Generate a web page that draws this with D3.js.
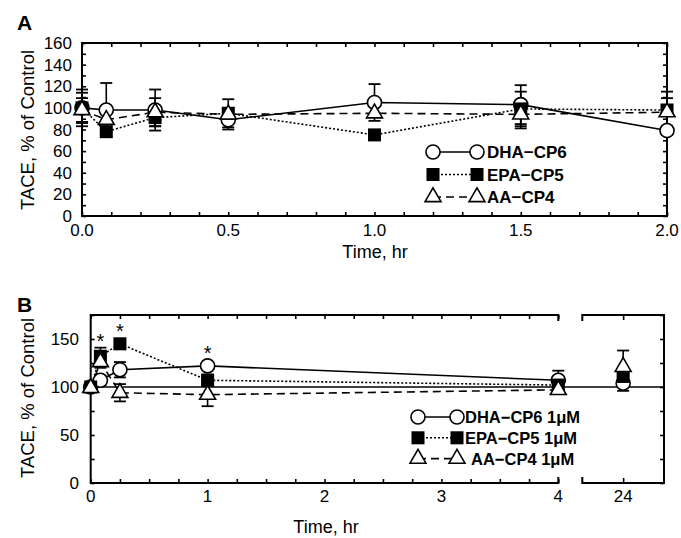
<!DOCTYPE html>
<html>
<head>
<meta charset="utf-8">
<script src="https://cdn.jsdelivr.net/npm/d3@7"></script>
<style>
  body { margin: 0; background: #fff; }
  text { font-family: "Liberation Sans", Arial, sans-serif; }
</style>
</head>
<body>
<svg id="svg1" width="681" height="538"></svg>
<script>
// ---- panel A data ----
var timesA = [0, 0.083, 0.25, 0.5, 1.0, 1.5, 2.0];
var dhaA = [100, 98, 98, 89, 105, 103, 79];
var dhaAErr = [17, 25, 19, 9, 17, 18, 4];
var epaA = [100, 78, 91, 95, 75, 99, 98];
var epaAErr = [14, 0, 8, 13, 0, 16, 17];
var aaA = [98, 89, 96, 94, 95, 94, 96];
var aaAErr = [11, 0, 13, 6, 0, 13, 13];
var xTicksA = [0, 0.5, 1.0, 1.5, 2.0];
var yTicksA = [0, 20, 40, 60, 80, 100, 120, 140, 160];

// ---- panel B data ----
var timesB = [0, 0.083, 0.25, 1, 4];
var dhaB = [100, 107, 118, 122, 107];
var dhaBErr = [0, 5, 8, 0, 10];
var epaB = [100, 132, 145, 107, 102];
var epaBErr = [0, 9, 4, 6, 3];
var aaB = [99, 126, 94, 92, 97];
var aaBErr = [0, 6, 9, 12, 0];
var time24 = 24;
var dha24 = 104, dha24Err = 8;
var epa24 = 111, epa24Err = 5;
var aa24 = 121, aa24Err = 17;
var starTimes = [0.083, 0.25, 1];
var starValues = [150, 160, 138];
var xTicksB = [0, 1, 2, 3, 4];
var yTicksB = [0, 50, 100, 150];

var svg = d3.select("#svg1");

var symCircle = d3.symbol().type(d3.symbolCircle).size(155);
var symSquare = d3.symbol().type(d3.symbolSquare).size(170);
var symTri = d3.symbol().type(d3.symbolTriangle).size(110);

function drawMarker(g, kind, x, y) {
  var p = g.append("path").attr("transform", "translate(" + x + "," + y + ")")
  if (kind == "dha") p.attr("d", symCircle()).attr("fill", "#fff").attr("stroke", "#000").attr("stroke-width", 1.6)
  else if (kind == "epa") p.attr("d", symSquare()).attr("fill", "#000")
  else p.attr("d", symTri()).attr("fill", "#fff").attr("stroke", "#000").attr("stroke-width", 1.6)
}
function dashFor(kind) {
  if (kind == "epa") return "2,2";
  if (kind == "aa") return "8,5";
  return null;
}
function errBar(g, x, y, v, e) {
  if (!e) return;
  [y(v + e), y(v - e)].forEach(function (yy) {
    g.append("line").attr("x1", x - 6).attr("x2", x + 6).attr("y1", yy).attr("y2", yy)
      .attr("stroke", "#000").attr("stroke-width", 1.8);
  });
  g.append("line").attr("x1", x).attr("x2", x).attr("y1", y(v + e)).attr("y2", y(v - e))
    .attr("stroke", "#000").attr("stroke-width", 1.6);
}
function noDomain(a) { a.select(".domain").remove(); }

// ================= Panel A =================
var xA = d3.scaleLinear().domain([0, 2]).range([82, 667]);
var yA = d3.scaleLinear().domain([0, 160]).range([216, 43]);

var gA = svg.append("g");
// frame
gA.append("rect").attr("x", 82).attr("y", 43).attr("width", 585).attr("height", 173)
  .attr("fill", "none").attr("stroke", "#000").attr("stroke-width", 2);

// inward ticks
gA.append("g").attr("transform", "translate(0,216)")
  .call(d3.axisBottom(xA).ticks(20).tickSizeInner(-4).tickSizeOuter(0).tickFormat("")).call(noDomain);
gA.append("g").attr("transform", "translate(0,43)")
  .call(d3.axisTop(xA).ticks(20).tickSizeInner(-4).tickSizeOuter(0).tickFormat("")).call(noDomain);
gA.append("g").attr("transform", "translate(82,0)")
  .call(d3.axisLeft(yA).tickValues(d3.range(0, 161, 10)).tickSizeInner(-4).tickSizeOuter(0).tickFormat("")).call(noDomain);
gA.append("g").attr("transform", "translate(667,0)")
  .call(d3.axisRight(yA).tickValues(d3.range(0, 161, 10)).tickSizeInner(-4).tickSizeOuter(0).tickFormat("")).call(noDomain);
gA.selectAll(".tick line").attr("stroke-width", 1.6);

// tick labels
gA.selectAll(".xl").data(xTicksA).enter().append("text")
  .attr("x", function (d) { return xA(d); }).attr("y", 236)
  .attr("text-anchor", "middle").attr("font-size", 17).text(function (d) { return d.toFixed(1); });
gA.selectAll(".yl").data(yTicksA).enter().append("text")
  .attr("x", 72).attr("y", function (d) { return yA(d) + 6; })
  .attr("text-anchor", "end").attr("font-size", 17).text(function (d) { return d; });

gA.append("text").attr("x", 375).attr("y", 258).attr("text-anchor", "middle")
  .attr("font-size", 18).text("Time, hr");
gA.append("text").attr("transform", "translate(34,130) rotate(-90)").attr("text-anchor", "middle")
  .attr("font-size", 18.5).text("TACE, % of Control");
gA.append("text").attr("x", 17).attr("y", 30).attr("font-size", 21).attr("font-weight", "bold").text("A");

var seriesA = [
  { kind: "dha", v: dhaA, e: dhaAErr },
  { kind: "epa", v: epaA, e: epaAErr },
  { kind: "aa", v: aaA, e: aaAErr }
];
seriesA.forEach(function (s) {
  var line = d3.line().x(function (d, i) { return xA(timesA[i]); }).y(function (d) { return yA(d); });
  gA.append("path").datum(s.v).attr("d", line).attr("fill", "none").attr("stroke", "#000")
    .attr("stroke-width", 1.6).attr("stroke-dasharray", dashFor(s.kind));
});
seriesA.forEach(function (s) {
  s.v.forEach(function (v, i) { errBar(gA, xA(timesA[i]), yA, v, s.e[i]); });
});
seriesA.forEach(function (s) {
  s.v.forEach(function (v, i) { drawMarker(gA, s.kind, xA(timesA[i]), yA(v)); });
});

// legend A
var legA = [["dha", "DHA\u2212CP6"], ["epa", "EPA\u2212CP5"], ["aa", "AA\u2212CP4"]];
legA.forEach(function (l, i) {
  var ly = 152 + i * 22.5;
  gA.append("line").attr("x1", 433).attr("x2", 477).attr("y1", ly).attr("y2", ly)
    .attr("stroke", "#000").attr("stroke-width", 1.6).attr("stroke-dasharray", dashFor(l[0]));
  drawMarker(gA, l[0], 433, ly);
  drawMarker(gA, l[0], 477, ly);
  gA.append("text").attr("x", 487).attr("y", ly + 6).attr("font-size", 17)
    .attr("font-weight", "bold").text(l[1]);
});

// ================= Panel B =================
var xB = d3.scaleLinear().domain([0, 4]).range([90.7, 558.3]);
var xB2 = d3.scaleLinear().domain([23.5, 24.5]).range([582.3, 664]);
var yB = d3.scaleLinear().domain([0, 175]).range([483, 315]);

var gB = svg.append("g");
// frame with axis break
gB.append("path").attr("d",
  "M558.3,477V483H90.7V315H558.3V321" +
  "M582.3,477V483H664V315H582.3V321")
  .attr("fill", "none").attr("stroke", "#000").attr("stroke-width", 2);

gB.append("g").attr("transform", "translate(0,483)")
  .call(d3.axisBottom(xB).tickValues(d3.range(0, 4.01, 0.25)).tickSizeInner(-4).tickSizeOuter(0).tickFormat("")).call(noDomain);
gB.append("g").attr("transform", "translate(0,315)")
  .call(d3.axisTop(xB).tickValues(d3.range(0, 4.01, 0.25)).tickSizeInner(-4).tickSizeOuter(0).tickFormat("")).call(noDomain);
gB.append("g").attr("transform", "translate(0,483)")
  .call(d3.axisBottom(xB2).tickValues([24]).tickSizeInner(-5).tickSizeOuter(0).tickFormat("")).call(noDomain);
gB.append("g").attr("transform", "translate(0,315)")
  .call(d3.axisTop(xB2).tickValues([24]).tickSizeInner(-5).tickSizeOuter(0).tickFormat("")).call(noDomain);
gB.append("g").attr("transform", "translate(90.7,0)")
  .call(d3.axisLeft(yB).tickValues(d3.range(0, 176, 25)).tickSizeInner(-4).tickSizeOuter(0).tickFormat("")).call(noDomain);
gB.append("g").attr("transform", "translate(664,0)")
  .call(d3.axisRight(yB).tickValues(d3.range(0, 176, 25)).tickSizeInner(-4).tickSizeOuter(0).tickFormat("")).call(noDomain);
gB.selectAll(".tick line").attr("stroke-width", 1.6);

gB.selectAll(".xl").data(xTicksB).enter().append("text")
  .attr("x", function (d) { return xB(d); }).attr("y", 502)
  .attr("text-anchor", "middle").attr("font-size", 17).text(function (d) { return d; });
gB.append("text").attr("x", xB2(time24)).attr("y", 502)
  .attr("text-anchor", "middle").attr("font-size", 17).text(time24);
gB.selectAll(".yl").data(yTicksB).enter().append("text")
  .attr("x", 79).attr("y", function (d) { return yB(d) + 6; })
  .attr("text-anchor", "end").attr("font-size", 17).text(function (d) { return d; });

gB.append("text").attr("x", 326).attr("y", 533).attr("text-anchor", "middle")
  .attr("font-size", 18).text("Time, hr");
gB.append("text").attr("transform", "translate(34,398) rotate(-90)").attr("text-anchor", "middle")
  .attr("font-size", 18.5).text("TACE, % of Control");
gB.append("text").attr("x", 17).attr("y", 312).attr("font-size", 21).attr("font-weight", "bold").text("B");

// 100% reference line
gB.append("line").attr("x1", xB(0)).attr("x2", 664).attr("y1", yB(100)).attr("y2", yB(100))
  .attr("stroke", "#000").attr("stroke-width", 1.6);

var seriesB = [
  { kind: "dha", v: dhaB, e: dhaBErr, v24: dha24, e24: dha24Err },
  { kind: "epa", v: epaB, e: epaBErr, v24: epa24, e24: epa24Err },
  { kind: "aa", v: aaB, e: aaBErr, v24: aa24, e24: aa24Err }
];
seriesB.forEach(function (s) {
  var line = d3.line().x(function (d, i) { return xB(timesB[i]); }).y(function (d) { return yB(d); });
  gB.append("path").datum(s.v).attr("d", line).attr("fill", "none").attr("stroke", "#000")
    .attr("stroke-width", 1.6).attr("stroke-dasharray", dashFor(s.kind));
});
seriesB.forEach(function (s) {
  s.v.forEach(function (v, i) { errBar(gB, xB(timesB[i]), yB, v, s.e[i]); });
  errBar(gB, xB2(time24), yB, s.v24, s.e24);
});
seriesB.forEach(function (s) {
  s.v.forEach(function (v, i) { drawMarker(gB, s.kind, xB(timesB[i]), yB(v)); });
  drawMarker(gB, s.kind, xB2(time24), yB(s.v24));
});

// significance stars
gB.selectAll(".star").data(starTimes).enter().append("text")
  .attr("x", function (d) { return xB(d); })
  .attr("y", function (d, i) { return yB(starValues[i]) + 9; })
  .attr("text-anchor", "middle").attr("font-size", 20).text("*");

// legend B
var legB = [["dha", "DHA\u2212CP6 1\u03bcM", 465], ["epa", "EPA\u2212CP5 1\u03bcM", 465], ["aa", "AA\u2212CP4 1\u03bcM", 471]];
legB.forEach(function (l, i) {
  var ly = 417 + i * 20.8;
  gB.append("line").attr("x1", 418).attr("x2", 457).attr("y1", ly).attr("y2", ly)
    .attr("stroke", "#000").attr("stroke-width", 1.6).attr("stroke-dasharray", dashFor(l[0]));
  drawMarker(gB, l[0], 418, ly);
  drawMarker(gB, l[0], 457, ly);
  gB.append("text").attr("x", l[2]).attr("y", ly + 6).attr("font-size", 16.5)
    .attr("font-weight", "bold").text(l[1]);
});
</script>
</body>
</html>
